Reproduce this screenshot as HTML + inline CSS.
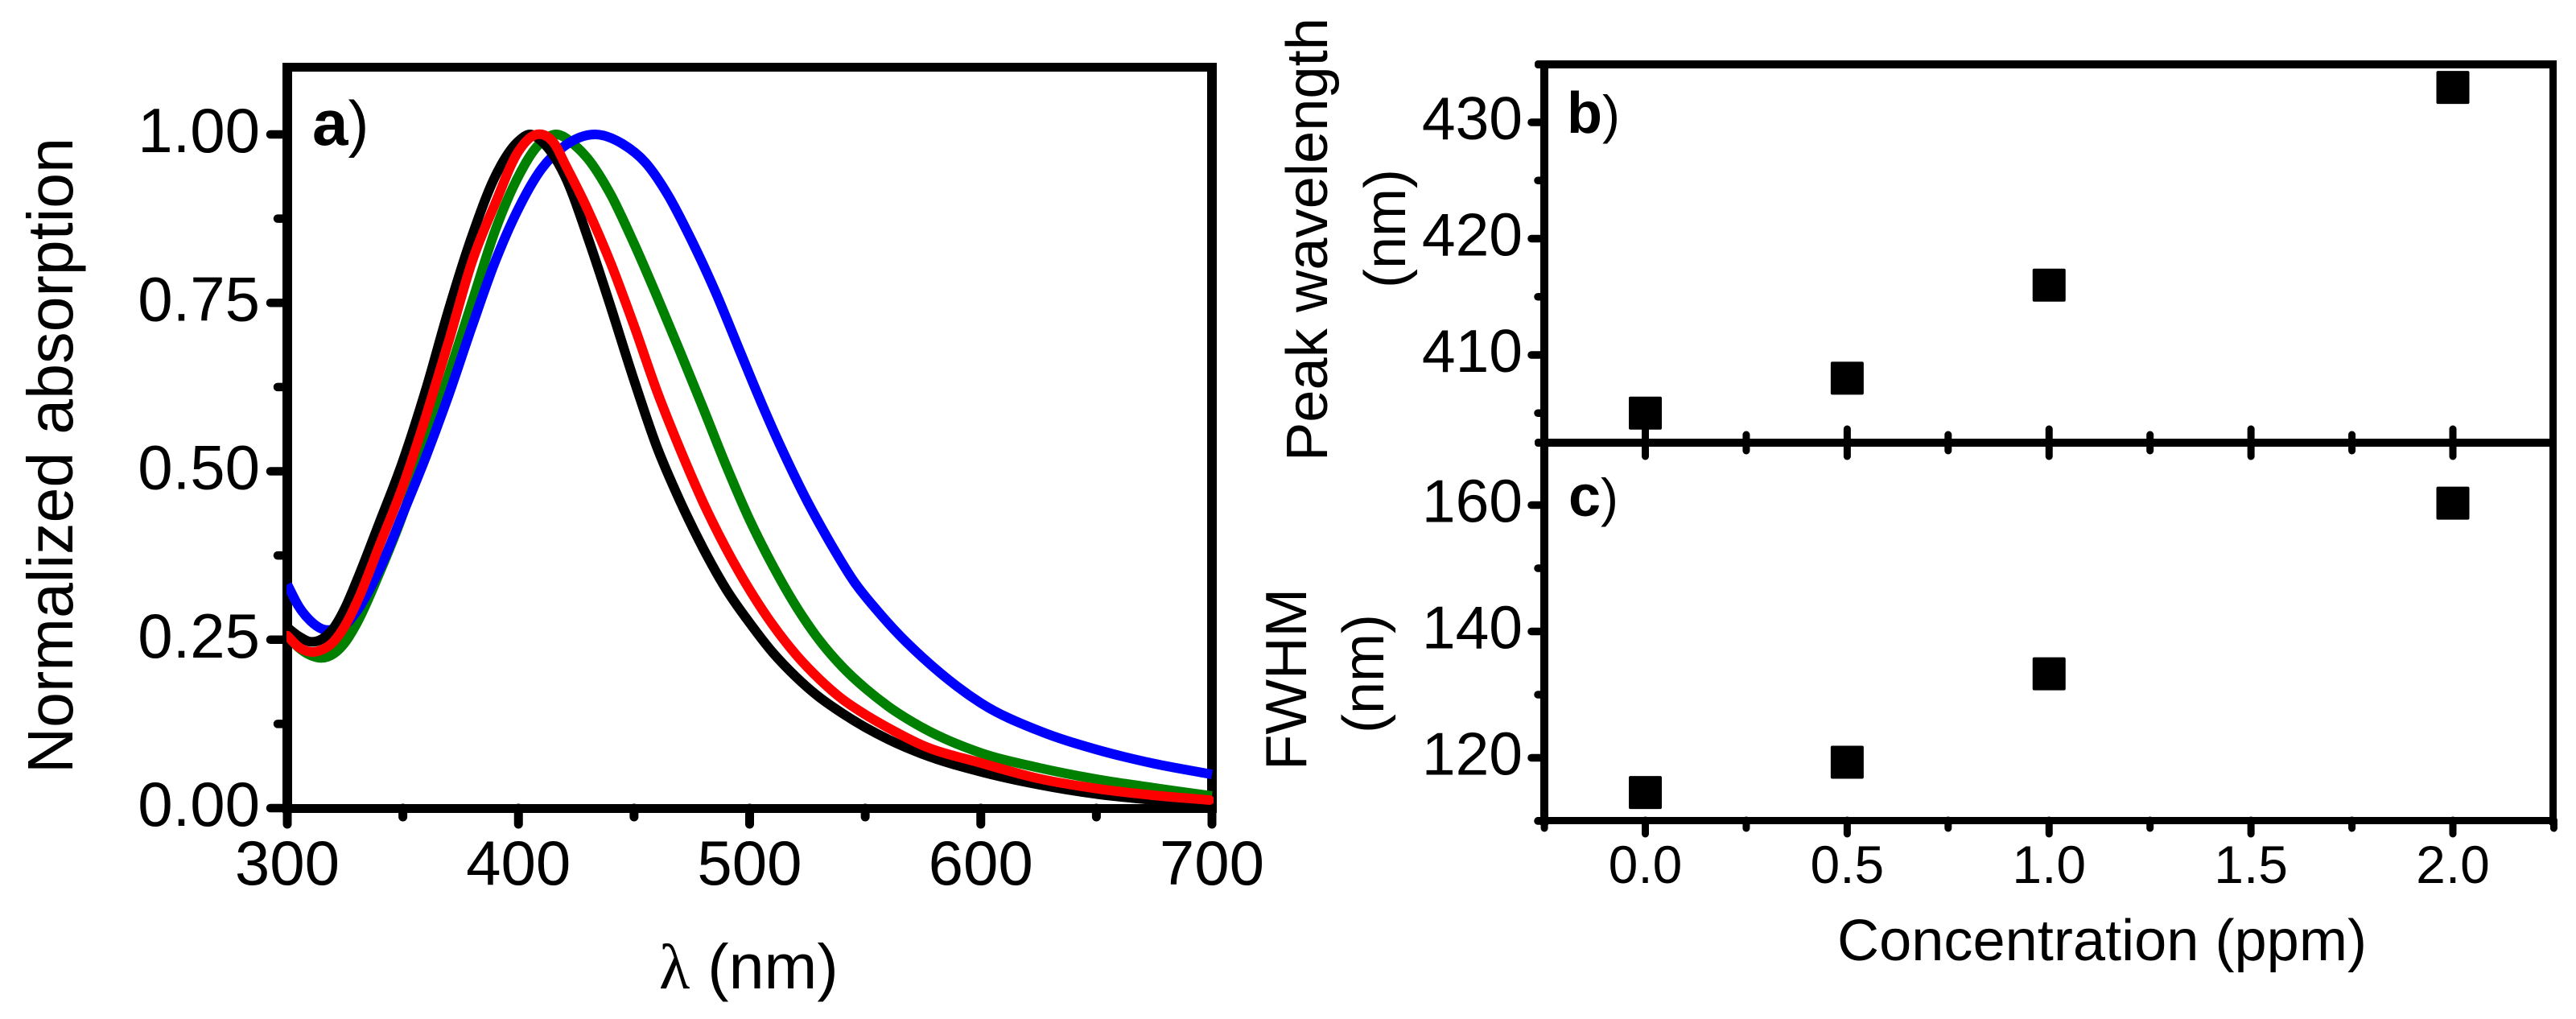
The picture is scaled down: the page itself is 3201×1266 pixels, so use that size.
<!DOCTYPE html>
<html lang="en">
<head>
<meta charset="utf-8">
<title>Absorption spectra, peak wavelength and FWHM versus concentration</title>
<style>
html,body{margin:0;padding:0;background:#fff;}
svg{display:block;}
text{font-family:"Liberation Sans",Arial,sans-serif;fill:#000;}
</style>
</head>
<body>
<svg id="chart" xmlns="http://www.w3.org/2000/svg" width="3201" height="1266" viewBox="0 0 3201 1266">
  <rect x="0" y="0" width="3201" height="1266" fill="#fff"/>
  <defs>
    <clipPath id="clip-a"><rect x="356" y="60" width="1152" height="960"/></clipPath>
  </defs>

  <g id="panel-a">
    <rect x="351" y="78" width="1161" height="11" fill="#000" rx="3"/>
    <rect x="351" y="78" width="12" height="932" fill="#000"/>
    <rect x="1500" y="78" width="12" height="932" fill="#000"/>
    <rect x="351" y="999" width="1161" height="11" fill="#000"/>
    <g id="a-ticks"></g>
    <g id="a-curves" clip-path="url(#clip-a)"></g>
    <text x="388" y="180" font-size="80"><tspan font-weight="bold">a</tspan><tspan font-size="78">)</tspan></text>
    <text transform="translate(90,961) rotate(-90)" font-size="80" textLength="790" lengthAdjust="spacingAndGlyphs">Normalized absorption</text>
    <text x="819" y="1228" font-size="79"><tspan style="font-family:'Liberation Serif','DejaVu Serif',serif">λ</tspan> (nm)</text>
  </g>

  <g id="panel-bc">
    <rect x="1907" y="75" width="1270" height="10" fill="#000" rx="4"/>
    <rect x="1914" y="75" width="10" height="950" fill="#000"/>
    <rect x="3168" y="75" width="9" height="950" fill="#000"/>
    <rect x="1907" y="545" width="1270" height="10" fill="#000" rx="4"/>
    <rect x="1907" y="1015" width="1270" height="9" fill="#000" rx="4"/>
    <g id="bc-ticks"></g>
    <g id="bc-marks"></g>
    <text x="1947" y="165" font-size="72"><tspan font-weight="bold">b</tspan><tspan font-size="66">)</tspan></text>
    <text x="1949" y="641" font-size="72"><tspan font-weight="bold">c</tspan><tspan font-size="66">)</tspan></text>
    <text transform="translate(1649,573) rotate(-90)" font-size="72" textLength="551" lengthAdjust="spacingAndGlyphs">Peak wavelength</text>
    <text transform="translate(1746,284) rotate(-90)" font-size="72" text-anchor="middle">(nm)</text>
    <text transform="translate(1623,957) rotate(-90)" font-size="72" textLength="226" lengthAdjust="spacingAndGlyphs">FWHM</text>
    <text transform="translate(1719,837) rotate(-90)" font-size="72" text-anchor="middle">(nm)</text>
    <text x="2283" y="1193" font-size="72" textLength="658" lengthAdjust="spacingAndGlyphs">Concentration (ppm)</text>
  </g>
</svg>

<script>
/* Panel a: normalized absorption spectra */
const greenWavelengths = [300,305,310,315,320,325,330,340,350,360,370,380,390,400,408,416,425,430,440,450,460,470,480,490,500,510,520,530,540,550,560,575,600,625,650,675,700];
const greenAbsorption = [.256,.238,.227,.223,.229,.246,.274,.350,.436,.538,.645,.752,.858,.938,.982,1,.982,.964,.910,.838,.759,.677,.593,.507,.428,.360,.300,.250,.210,.178,.151,.119,.082,.060,.043,.030,.018];

const blueWavelengths = [300,305,310,315,320,325,330,340,350,360,370,380,390,400,410,420,433,445,455,465,475,485,495,505,515,525,535,545,555,565,575,590,600,625,650,675,700];
const blueAbsorption = [.332,.299,.278,.266,.265,.272,.292,.355,.437,.522,.615,.716,.812,.890,.949,.983,1,.986,.958,.908,.842,.768,.685,.602,.525,.455,.393,.337,.294,.256,.223,.180,.156,.115,.087,.066,.050];

const blackWavelengths = [300,305,310,315,320,325,330,340,350,360,370,380,390,400,405,410,420,430,440,450,460,470,480,490,500,510,520,530,540,550,560,575,600,625,650,675,700];
const blackAbsorption = [.268,.255,.247,.251,.267,.297,.337,.425,.515,.622,.742,.850,.938,.990,1,.990,.939,.847,.743,.635,.535,.455,.385,.324,.275,.231,.195,.165,.141,.120,.102,.080,.054,.035,.021,.012,.005];

const redWavelengths = [300,305,310,315,320,325,330,340,350,360,370,380,390,400,408,416,420,430,440,450,460,470,480,490,500,510,520,530,540,550,560,575,600,625,650,675,699];
const redAbsorption = [.256,.239,.232,.235,.247,.271,.305,.391,.478,.582,.695,.812,.898,.975,1,.984,.957,.888,.808,.716,.618,.532,.453,.384,.324,.272,.228,.192,.162,.139,.119,.093,.067,.044,.029,.019,.012];

const aXMajor = [300,400,500,600,700];
const aXMinor = [350,450,550,650];
const aYMajor = [0,0.25,0.5,0.75,1];
const aYMinor = [0.125,0.375,0.625,0.875];
const aXLabels = ['300','400','500','600','700'];
const aYLabels = ['0.00','0.25','0.50','0.75','1.00'];

/* Panels b and c: concentration series */
const concentrations = [0,0.5,1,2];
const peakWavelengths = [405,408,416,433];
const fwhmValues = [114.5,119.3,133.3,160.3];

const bcXMajor = [0,0.5,1,1.5,2];
const bcXMinor = [0.25,0.75,1.25,1.75];
const bcXEndMinor = [-0.25,2.25];
const bXLabels = ['0.0','0.5','1.0','1.5','2.0'];
const bYMajor = [410,420,430];
const bYMinor = [405,415,425];
const bYLabels = ['410','420','430'];
const cYMajor = [120,140,160];
const cYMinor = [110,130,150];
const cYLabels = ['120','140','160'];

const SVG_NS = 'http://www.w3.org/2000/svg';

/* Axis functions */
function ax(v){return 357 + 2.8725*(v-300);}
function ay(v){return 1004 - 837*v;}
function bcx(v){return 2044.5 + 501.75*v;}
function by(v){return 441 - 14.45*(v-410);}
function cy(v){return 941.5 - 7.85*(v-120);}

function mk(tag,parent){
  const el = document.createElementNS(SVG_NS,tag);
  parent.appendChild(el);
  return el;
}
function tick(parent,x1,y1,x2,y2,w){
  const el = mk('line',parent);
  el.setAttribute('x1',x1);
  el.setAttribute('y1',y1);
  el.setAttribute('x2',x2);
  el.setAttribute('y2',y2);
  el.setAttribute('stroke','#000');
  el.setAttribute('stroke-width',w);
  el.setAttribute('stroke-linecap','round');
  return el;
}
function label(parent,x,y,size,anchor,str){
  const el = mk('text',parent);
  el.setAttribute('x',x);
  el.setAttribute('y',y);
  el.setAttribute('font-size',size);
  el.setAttribute('text-anchor',anchor);
  el.textContent = str;
  return el;
}
/* Cubic Hermite through the data points, tangents from neighbouring slopes */
function smoothPath(xs,ys){
  const px = xs.map(ax), py = ys.map(ay), n = px.length, m = [];
  for(let i=0;i<n;i++){
    if(i===0){m.push((py[1]-py[0])/(px[1]-px[0]));}
    else if(i===n-1){m.push((py[n-1]-py[n-2])/(px[n-1]-px[n-2]));}
    else{
      const h0=px[i]-px[i-1], h1=px[i+1]-px[i];
      const s0=(py[i]-py[i-1])/h0, s1=(py[i+1]-py[i])/h1;
      m.push((s0*h1+s1*h0)/(h0+h1));
    }
  }
  let d = 'M'+px[0].toFixed(1)+' '+py[0].toFixed(1);
  for(let i=0;i<n-1;i++){
    const h=(px[i+1]-px[i])/3;
    d+='C'+(px[i]+h).toFixed(1)+' '+(py[i]+m[i]*h).toFixed(1)+' '+(px[i+1]-h).toFixed(1)+' '+(py[i+1]-m[i+1]*h).toFixed(1)+' '+px[i+1].toFixed(1)+' '+py[i+1].toFixed(1);
  }
  return d;
}
function curve(parent,xs,ys,color,cap){
  const el = mk('path',parent);
  el.setAttribute('d',smoothPath(xs,ys));
  el.setAttribute('fill','none');
  el.setAttribute('stroke',color);
  el.setAttribute('stroke-width',12);
  el.setAttribute('stroke-linecap',cap);
  el.setAttribute('stroke-linejoin','round');
  return el;
}

/* Panel a ticks and labels */
const aTicks = document.getElementById('a-ticks');
aXMajor.forEach(function(v,i){
  const t = tick(aTicks,ax(v),1004,ax(v),1024,11);
  
  
  const l = label(aTicks,ax(v),1099,78,'middle',aXLabels[i]);
  
  
});
aXMinor.forEach(function(v){
  const t = tick(aTicks,ax(v),1004,ax(v),1015,11);
  
  
});
aYMajor.forEach(function(v,i){
  const t = tick(aTicks,357,ay(v),336,ay(v),10.5);
  
  
  const l = label(aTicks,323,ay(v)+22,78,'end',aYLabels[i]);
  
  
});
aYMinor.forEach(function(v){
  const t = tick(aTicks,357,ay(v),345,ay(v),10.5);
  
  
});

/* Panel a curves: green, blue, black, red (red on top) */
const aCurves = document.getElementById('a-curves');
const cGreen = curve(aCurves,greenWavelengths,greenAbsorption,'#008000','butt');


const cBlue = curve(aCurves,blueWavelengths,blueAbsorption,'#0000ff','butt');


const cBlack = curve(aCurves,blackWavelengths,blackAbsorption,'#000000','butt');


const cRed = curve(aCurves,redWavelengths,redAbsorption,'#ff0000','round');



/* Panels b and c ticks and labels */
const bcTicks = document.getElementById('bc-ticks');
bcXMajor.forEach(function(v,i){
  const t1 = tick(bcTicks,bcx(v),533,bcx(v),567,9);
  
  
  const t2 = tick(bcTicks,bcx(v),1019,bcx(v),1036,9);
  
  
  const l = label(bcTicks,bcx(v),1097,66,'middle',bXLabels[i]);
  
  
});
bcXMinor.forEach(function(v){
  const t1 = tick(bcTicks,bcx(v),540,bcx(v),560,9);
  
  
  const t2 = tick(bcTicks,bcx(v),1019,bcx(v),1029,9);
  
  
});
bcXEndMinor.forEach(function(v){
  const t = tick(bcTicks,bcx(v),1019,bcx(v),1029,9);
  
  
});
bYMajor.forEach(function(v,i){
  const t = tick(bcTicks,1919,by(v),1903,by(v),9.5);
  
  
  const l = label(bcTicks,1892,by(v)+21,75,'end',bYLabels[i]);
  
  
});
bYMinor.forEach(function(v){
  const t = tick(bcTicks,1919,by(v),1911,by(v),9.5);
  
  
});
cYMajor.forEach(function(v,i){
  const t = tick(bcTicks,1919,cy(v),1903,cy(v),9.5);
  
  
  const l = label(bcTicks,1892,cy(v)+21,75,'end',cYLabels[i]);
  
  
});
cYMinor.forEach(function(v){
  const t = tick(bcTicks,1919,cy(v),1911,cy(v),9.5);
  
  
});

/* Panels b and c square markers */
const bcMarks = document.getElementById('bc-marks');
function square(cx,cyy){
  const el = mk('rect',bcMarks);
  el.setAttribute('x',cx-20.5);
  el.setAttribute('y',cyy-20.5);
  el.setAttribute('width',41);
  el.setAttribute('height',41);
  el.setAttribute('rx',2);
  el.setAttribute('fill','#000');
  return el;
}
concentrations.forEach(function(c,i){
  const m1 = square(bcx(c),by(peakWavelengths[i]));
  
  
  const m2 = square(bcx(c),cy(fwhmValues[i]));
  
  
});
</script>
</body>
</html>
